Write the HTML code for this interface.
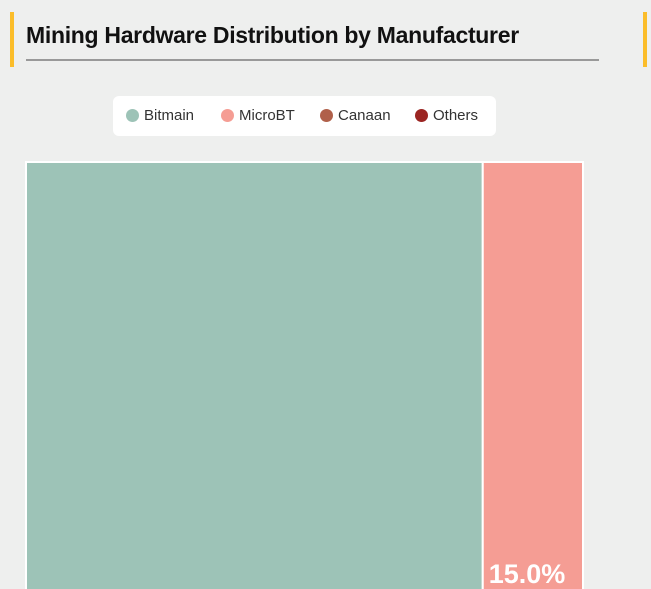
<!DOCTYPE html>
<html><head><meta charset="utf-8"><style>
body{margin:0;width:651px;height:589px;overflow:hidden;background:#eeefee;font-family:"Liberation Sans",sans-serif;position:relative}
.bar{position:absolute;background:#fbbd2a;width:4px;top:12px;height:55px}
h1{position:absolute;left:26px;top:22px;margin:0;font-size:23px;font-weight:bold;color:#111;letter-spacing:-0.3px}
.ul{position:absolute;left:26px;top:59px;width:573px;height:2px;background:#999}
.legend{position:absolute;left:113px;top:96px;width:383px;height:40px;background:#fff;border-radius:6px;font-size:15px;color:#333}
.li{position:absolute;top:11px;display:flex;align-items:center}
.dot{width:13px;height:13px;border-radius:50%;margin-right:5px}
</style></head><body>
<div class="bar" style="left:10px"></div>
<div class="bar" style="left:643px"></div>
<h1>Mining Hardware Distribution by Manufacturer</h1>
<div class="ul"></div>
<div class="legend">
<div class="li" style="left:13px"><div class="dot" style="background:#9dc3b7"></div>Bitmain</div>
<div class="li" style="left:108px"><div class="dot" style="background:#f59d94"></div>MicroBT</div>
<div class="li" style="left:207px"><div class="dot" style="background:#b0604a"></div>Canaan</div>
<div class="li" style="left:302px"><div class="dot" style="background:#9b2522"></div>Others</div>
</div>
<svg id="tm" width="651" height="589" style="position:absolute;left:0;top:0;overflow:hidden"></svg>
<script>
const categories=["Bitmain","MicroBT","Canaan","Others"];
const values=[82,15,2,1];
const colors=["#9dc3b7","#f59d94","#b0604a","#9b2522"];
const svg=document.getElementById('tm');
const X0=26,Y0=162,W=557,H=517;
const total=values.reduce((a,b)=>a+b,0);
const ns="http://www.w3.org/2000/svg";
const w0=W*values[0]/total;
const rest=total-values[0];
const cells=[{x:X0,y:Y0,w:w0,h:H}];
let yy=Y0;
for(let i=1;i<values.length;i++){const h=H*values[i]/rest;cells.push({x:X0+w0,y:yy,w:W-w0,h:h});yy+=h;}
cells.forEach((c,i)=>{
const r=document.createElementNS(ns,'rect');
r.setAttribute('x',c.x);r.setAttribute('y',c.y);r.setAttribute('width',c.w);r.setAttribute('height',c.h);
r.setAttribute('fill',colors[i]);r.setAttribute('stroke','#fff');r.setAttribute('stroke-width','2');


svg.appendChild(r);
const t=document.createElementNS(ns,'text');
t.setAttribute('x',c.x+6);t.setAttribute('y',c.y+c.h-10);
t.setAttribute('fill','#fff');t.setAttribute('font-size','27');t.setAttribute('font-weight','bold');
t.setAttribute('font-family','Liberation Sans, sans-serif');
t.textContent=(values[i]/total*100).toFixed(1)+'%';


svg.appendChild(t);
});
</script>
</body></html>
